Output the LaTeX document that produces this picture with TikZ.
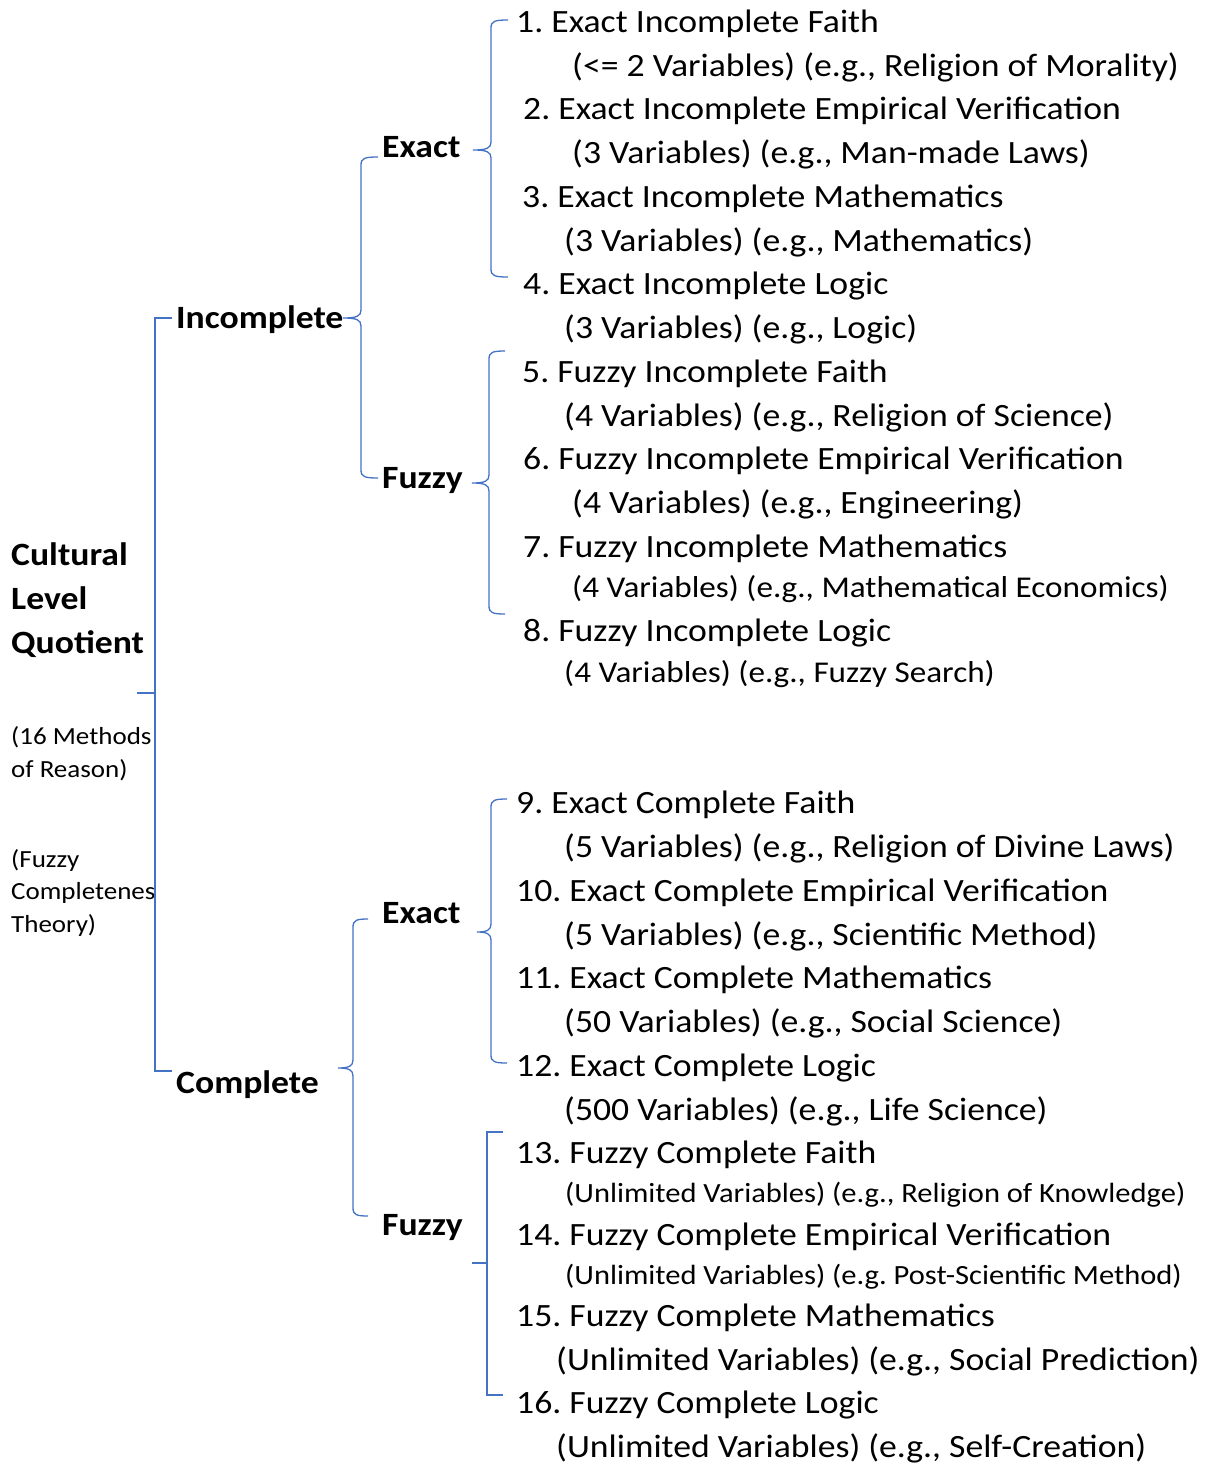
\documentclass[tikz,border=0pt]{standalone}
\usepackage{fontspec}
\setmainfont{Carlito}[FakeStretch=1.098]
\definecolor{bblue}{RGB}{68,114,196}
\newcommand\mybrace[6]{%
  \draw[br] (#6,#2) .. controls (#1+4,#2) and (#1,#2+1) .. (#1,#2+8)
    -- (#1,#3-8) .. controls (#1,#3-2) and (#1-4,#3) .. (#5,#3)
    .. controls (#1-4,#3) and (#1,#3+2) .. (#1,#3+8)
    -- (#1,#4-8) .. controls (#1,#4-1) and (#1+4,#4) .. (#6,#4);}
\begin{document}
\frenchspacing
\begin{tikzpicture}[x=1pt,y=-1pt,
  br/.style={draw=bblue, line width=1.3pt},
  item/.style={anchor=base west, inner sep=0pt, font=\fontsize{32.5}{39}\selectfont},
  subm/.style={item, font=\fontsize{30.2}{36}\selectfont},
  subs/.style={item, font=\fontsize{27.8}{33}\selectfont},
  lab/.style={anchor=base west, inner sep=0pt, font=\fontsize{32.5}{39}\selectfont\bfseries},
  note/.style={anchor=base west, inner sep=0pt, font=\fontsize{24.6}{33}\selectfont}]
\useasboundingbox (0,0) rectangle (1209,1465);
% root text
\node[lab] (clq1) at (11,565) {Cultural};
\node[lab] (clq2) at (11,609) {Level};
\node[lab] (clq3) at (11,653) {Quotient};
\begin{scope}
\clip (0,700) rectangle (155.5,950);
\node[note] (n1) at (11,744) {(16 Methods};
\node[note] (n2) at (11,777) {of Reason)};
\node[note] (n3) at (11,867) {(Fuzzy};
\node[note] (n4) at (11,899) {Completeness};
\node[note] (n5) at (11,932) {Theory)};
\end{scope}
% level 1
\node[lab] (inc) at (176,328) {Incomplete};
\node[lab] (com) at (176,1093) {Complete};
% level 2
\node[lab] (ie) at (382,157) {Exact};
\node[lab] (if) at (382,488) {Fuzzy};
\node[lab] (ce) at (382,923) {Exact};
\node[lab] (cf) at (382,1235) {Fuzzy};
% items
\node[item] (i1) at (516,32) {1. Exact Incomplete Faith};
\node[item] (i1b) at (572,76) {(<= 2 Variables) (e.g., Religion of Morality)};
\node[item] (i2) at (523,119) {2. Exact Incomplete Empirical Verification};
\node[item] (i2b) at (572,163) {(3 Variables) (e.g., Man-made Laws)};
\node[item] (i3) at (522,207) {3. Exact Incomplete Mathematics};
\node[item] (i3b) at (564,251) {(3 Variables) (e.g., Mathematics)};
\node[item] (i4) at (523,294) {4. Exact Incomplete Logic};
\node[item] (i4b) at (564,338) {(3 Variables) (e.g., Logic)};
\node[item] (i5) at (522,382) {5. Fuzzy Incomplete Faith};
\node[item] (i5b) at (564,426) {(4 Variables) (e.g., Religion of Science)};
\node[item] (i6) at (523,469) {6. Fuzzy Incomplete Empirical Verification};
\node[item] (i6b) at (572,513) {(4 Variables) (e.g., Engineering)};
\node[item] (i7) at (523,557) {7. Fuzzy Incomplete Mathematics};
\node[subm] (i7b) at (572,597) {(4 Variables) (e.g., Mathematical Economics)};
\node[item] (i8) at (523,641) {8. Fuzzy Incomplete Logic};
\node[subm] (i8b) at (564,682) {(4 Variables) (e.g., Fuzzy Search)};
\node[item] (i9) at (516,813) {9. Exact Complete Faith};
\node[item] (i9b) at (564,857) {(5 Variables) (e.g., Religion of Divine Laws)};
\node[item] (i10) at (516,901) {10. Exact Complete Empirical Verification};
\node[item] (i10b) at (564,945) {(5 Variables) (e.g., Scientific Method)};
\node[item] (i11) at (516,988) {11. Exact Complete Mathematics};
\node[item] (i11b) at (564,1032) {(50 Variables) (e.g., Social Science)};
\node[item] (i12) at (516,1076) {12. Exact Complete Logic};
\node[item] (i12b) at (564,1120) {(500 Variables) (e.g., Life Science)};
\node[item] (i13) at (516,1163) {13. Fuzzy Complete Faith};
\node[subs] (i13b) at (565,1202) {(Unlimited Variables) (e.g., Religion of Knowledge)};
\node[item] (i14) at (516,1245) {14. Fuzzy Complete Empirical Verification};
\node[subs] (i14b) at (565,1284) {(Unlimited Variables) (e.g. Post-Scientific Method)};
\node[item] (i15) at (516,1326) {15. Fuzzy Complete Mathematics};
\node[item] (i15b) at (556,1370) {(Unlimited Variables) (e.g., Social Prediction)};
\node[item] (i16) at (516,1413) {16. Fuzzy Complete Logic};
\node[item] (i16b) at (556,1457) {(Unlimited Variables) (e.g., Self-Creation)};
% brackets
\draw[br] (172,318) -- (155,318) -- (155,1071) -- (172,1071);
\draw[br] (137,693) -- (155,693);
\mybrace{361}{157}{318}{478}{343}{378}
\mybrace{353}{919}{1068}{1216}{338}{368}
\mybrace{491}{20}{150}{277}{473}{508}
\mybrace{489}{351}{483}{614}{472}{505}
\mybrace{491}{799}{932}{1063}{477}{507}
\draw[br] (503,1132) -- (487,1132) -- (487,1395) -- (503,1395);
\draw[br] (472,1263) -- (487,1263);
\end{tikzpicture}
\end{document}
